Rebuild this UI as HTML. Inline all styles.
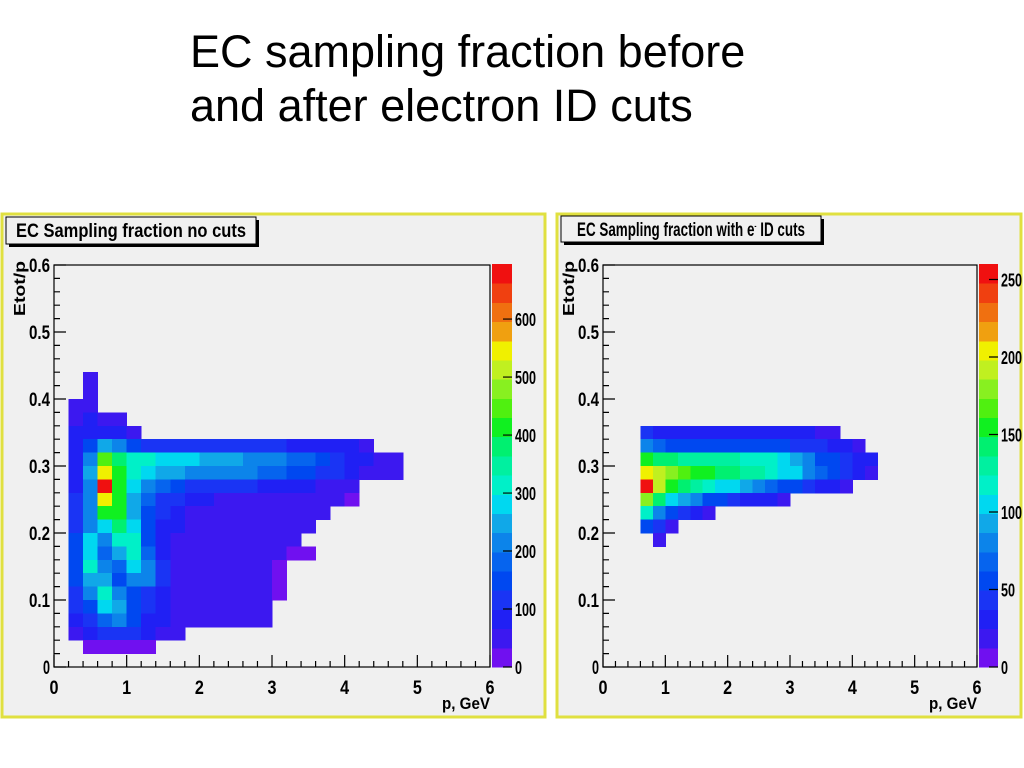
<!DOCTYPE html>
<html><head><meta charset="utf-8"><style>
html,body{margin:0;padding:0;background:#fff;width:1024px;height:768px;overflow:hidden}
#t{position:absolute;left:190px;top:25px;font:45px "Liberation Sans",sans-serif;line-height:54px;color:#000}
svg{position:absolute;left:0;top:0}
text{font-family:"Liberation Sans",sans-serif;font-weight:bold}
</style></head><body>
<div id="t">EC sampling fraction before<br>and after electron ID cuts</div>
<svg id="s" width="1024" height="768"></svg>
<script>
// ---- data ----
const pEdges = [0,0.2,0.4,0.6,0.8,1.0,1.2,1.4,1.6,1.8,2.0,2.2,2.4,2.6,2.8,3.0,3.2,3.4,3.6,3.8,4.0,4.2,4.4,4.6,4.8,5.0];
const yCenters = [0.43,0.41,0.39,0.37,0.35,0.33,0.31,0.29,0.27,0.25,0.23,0.21,0.19,0.17,0.15,0.13,0.11,0.09,0.07,0.05,0.03];
const leftCounts = [
[0,0,40,0,0,0,0,0,0,0,0,0,0,0,0,0,0,0,0,0,0,0,0,0,0],
[0,0,50,0,0,0,0,0,0,0,0,0,0,0,0,0,0,0,0,0,0,0,0,0,0],
[0,40,60,0,0,0,0,0,0,0,0,0,0,0,0,0,0,0,0,0,0,0,0,0,0],
[0,60,70,60,50,0,0,0,0,0,0,0,0,0,0,0,0,0,0,0,0,0,0,0,0],
[0,70,90,90,80,40,0,0,0,0,0,0,0,0,0,0,0,0,0,0,0,0,0,0,0],
[0,80,160,250,200,150,110,110,110,110,110,100,100,100,100,100,90,90,90,80,70,50,0,0,0],
[0,80,220,450,380,330,300,290,280,270,260,250,240,230,220,210,190,170,150,120,90,70,60,50,0],
[0,90,250,550,400,320,280,260,240,230,220,220,210,200,190,180,160,150,130,110,80,60,50,40,0],
[0,90,230,680,420,280,220,180,150,130,120,110,100,100,90,90,80,70,60,50,40,0,0,0,0],
[0,100,200,550,400,250,170,120,100,80,70,60,60,60,60,60,60,60,50,40,30,0,0,0,0],
[0,110,200,400,400,260,150,100,80,60,60,60,60,60,60,60,60,60,50,0,0,0,0,0,0],
[0,120,230,280,380,280,150,90,70,60,60,60,60,60,60,60,60,50,0,0,0,0,0,0,0],
[0,140,270,200,330,300,160,90,60,60,60,60,60,60,60,60,40,0,0,0,0,0,0,0,0],
[0,150,280,180,250,320,180,90,60,60,60,60,60,60,60,40,30,20,0,0,0,0,0,0,0],
[0,160,300,200,180,280,200,100,60,60,60,60,60,60,60,30,0,0,0,0,0,0,0,0,0],
[0,140,250,260,160,200,200,100,60,60,60,60,60,60,60,30,0,0,0,0,0,0,0,0,0],
[0,120,200,300,200,150,130,90,60,60,60,60,60,60,60,20,0,0,0,0,0,0,0,0,0],
[0,100,150,280,260,150,100,80,60,60,60,60,60,60,60,0,0,0,0,0,0,0,0,0,0],
[0,80,120,180,220,160,90,70,60,40,40,40,40,40,40,0,0,0,0,0,0,0,0,0,0],
[0,60,80,100,120,100,80,60,50,0,0,0,0,0,0,0,0,0,0,0,0,0,0,0,0],
[0,0,30,30,30,30,30,0,0,0,0,0,0,0,0,0,0,0,0,0,0,0,0,0,0]
];
const rightCounts = [
[0,0,0,0,0,0,0,0,0,0,0,0,0,0,0,0,0,0,0,0,0,0,0,0,0],
[0,0,0,0,0,0,0,0,0,0,0,0,0,0,0,0,0,0,0,0,0,0,0,0,0],
[0,0,0,0,0,0,0,0,0,0,0,0,0,0,0,0,0,0,0,0,0,0,0,0,0],
[0,0,0,0,0,0,0,0,0,0,0,0,0,0,0,0,0,0,0,0,0,0,0,0,0],
[0,0,0,40,30,30,30,30,30,30,30,25,25,25,25,25,25,20,20,0,0,0,0,0,0],
[0,0,0,80,70,60,55,55,55,55,55,50,50,50,50,40,40,40,30,30,20,0,0,0,0],
[0,0,0,150,145,140,135,130,130,125,125,120,120,115,105,95,75,60,50,40,35,25,0,0,0],
[0,0,0,200,190,180,170,160,150,145,140,135,130,120,110,100,80,65,50,40,30,20,0,0,0],
[0,0,0,250,190,160,140,130,120,110,100,90,80,70,60,50,40,30,25,20,0,0,0,0,0],
[0,0,0,180,140,110,90,75,60,50,40,35,30,25,20,0,0,0,0,0,0,0,0,0,0],
[0,0,0,120,80,60,40,30,20,0,0,0,0,0,0,0,0,0,0,0,0,0,0,0,0],
[0,0,0,50,40,20,0,0,0,0,0,0,0,0,0,0,0,0,0,0,0,0,0,0,0],
[0,0,0,0,20,0,0,0,0,0,0,0,0,0,0,0,0,0,0,0,0,0,0,0,0],
[0,0,0,0,0,0,0,0,0,0,0,0,0,0,0,0,0,0,0,0,0,0,0,0,0],
[0,0,0,0,0,0,0,0,0,0,0,0,0,0,0,0,0,0,0,0,0,0,0,0,0],
[0,0,0,0,0,0,0,0,0,0,0,0,0,0,0,0,0,0,0,0,0,0,0,0,0],
[0,0,0,0,0,0,0,0,0,0,0,0,0,0,0,0,0,0,0,0,0,0,0,0,0],
[0,0,0,0,0,0,0,0,0,0,0,0,0,0,0,0,0,0,0,0,0,0,0,0,0],
[0,0,0,0,0,0,0,0,0,0,0,0,0,0,0,0,0,0,0,0,0,0,0,0,0],
[0,0,0,0,0,0,0,0,0,0,0,0,0,0,0,0,0,0,0,0,0,0,0,0,0],
[0,0,0,0,0,0,0,0,0,0,0,0,0,0,0,0,0,0,0,0,0,0,0,0,0]
];
const xTicks = [0,1,2,3,4,5,6];
const yTicks = [0,0.1,0.2,0.3,0.4,0.5,0.6];
const leftZTicks = [0,100,200,300,400,500,600];
const rightZTicks = [0,50,100,150,200,250];
const palette = ["#7010f0","#3c18f0","#2020f4","#1a34f4","#0048f0","#0664ee","#0c84ea","#10a8e8","#00d8f0","#00f0c8","#00f0a0","#00f070","#10f020","#50f010","#88f020","#c0f020","#f0f000","#f0a010","#f07010","#f04010","#f01010"];

const NS="http://www.w3.org/2000/svg";
const svg=document.getElementById('s');
function mk(tag,attrs,parent){const e=document.createElementNS(NS,tag);for(const k in attrs)e.setAttribute(k,attrs[k]);(parent||svg).appendChild(e);return e;}

function panel(o){
  const g=mk('g',{});
  
  
  mk('rect',{x:o.fx,y:o.fy,width:o.fw,height:o.fh,fill:'#f0f0f0',stroke:'#e0e040','stroke-width':3},g);
  const X=p=>o.x0+(o.x1-o.x0)*p/6;
  const Y=v=>o.y0-(o.y0-o.y1)*v/0.6;
  const cells=mk('g',{'shape-rendering':'crispEdges'},g);
  const nl=palette.length;
  o.data.forEach((row,r)=>{
    row.forEach((v,c)=>{
      if(v<=0)return;
      const li=Math.min(nl-1,Math.floor(v/o.zmax*nl));
      const rc=mk('rect',{x:X(pEdges[c]),y:Y(yCenters[r]+0.01),width:X(pEdges[c+1])-X(pEdges[c])+0.5,height:Y(yCenters[r]-0.01)-Y(yCenters[r]+0.01)+0.5,fill:palette[li]},cells);
      
      
    });
  });
  mk('rect',{x:o.x0,y:o.y1,width:o.x1-o.x0,height:o.y0-o.y1,fill:'none',stroke:'#000','stroke-width':1.2},g);
  let d='';
  for(let i=0;i<=30;i++){const p=i*0.2;const x=X(p);const L=(i%5==0)?12:6;d+=`M${x},${o.y0}v${-L}`;}
  for(let i=0;i<=30;i++){const v=i*0.02;const y=Y(v);const L=(i%5==0)?12:6;d+=`M${o.x0},${y}h${L}`;}
  mk('path',{d:d,stroke:'#000','stroke-width':1.2,fill:'none'},g);
  xTicks.forEach(t=>{const e=mk('text',{x:X(t),y:o.y0+27,'font-size':19,'text-anchor':'middle',textLength:9,lengthAdjust:'spacingAndGlyphs'},g);e.textContent=t;
    });
  yTicks.forEach(t=>{const s=t===0?'0':t.toFixed(1);const e=mk('text',{x:o.x0-4,y:Y(t)+7,'font-size':19,'text-anchor':'end',textLength:s.length*7,lengthAdjust:'spacingAndGlyphs'},g);e.textContent=s;
    });
  const xt=mk('text',{x:o.x1,y:o.y0+42,'font-size':17,'text-anchor':'end',textLength:48,lengthAdjust:'spacingAndGlyphs'},g);xt.textContent='p, GeV';
  
  const yt=mk('text',{x:0,y:0,'font-size':16,'text-anchor':'end',textLength:55,lengthAdjust:'spacingAndGlyphs',transform:`translate(${o.x0-29},${o.y1-4}) rotate(-90)`},g);yt.textContent='Etot/p';
  
  const cb=mk('g',{'shape-rendering':'crispEdges'},g);
  
  const h=(o.y0-o.cbTop)/nl;
  palette.forEach((c,i)=>{mk('rect',{x:o.cbx,y:o.y0-(i+1)*h,width:o.cbw,height:h+0.5,fill:c},cb);});
  const Z=z=>o.y0-(o.y0-o.cbTop)*z/o.zmax;
  let dz='';
  o.zticks.forEach(z=>{dz+=`M${o.cbx+o.cbw},${Z(z)}h-9`;
    const s=String(z);
    const e=mk('text',{x:o.cbx+o.cbw+3,y:Z(z)+7,'font-size':18,textLength:s.length*7,lengthAdjust:'spacingAndGlyphs'},g);e.textContent=s;
    });
  mk('path',{d:dz,stroke:'#000','stroke-width':1.2},g);
  mk('rect',{x:o.tx+3,y:o.ty+3,width:o.tw,height:o.th,fill:'#000'},g);
  const tb=mk('rect',{x:o.tx,y:o.ty,width:o.tw,height:o.th,fill:'#f0f0f0',stroke:'#000','stroke-width':1},g);
  
  const tt=mk('text',{x:o.tx+o.tw/2,y:o.ty+20,'font-size':19,'text-anchor':'middle',textLength:o.tl,lengthAdjust:'spacingAndGlyphs'},g);
  tt.textContent=o.title;
  
  return tt;
}
panel({name:'left-panel-no-cuts',fx:2,fy:214,fw:543,fh:503,x0:54,x1:490,y0:667,y1:265,cbx:492,cbw:20,cbTop:264,zmax:695,zticks:leftZTicks,data:leftCounts,
  tx:6,ty:217,tw:250,th:27,tl:230,title:'EC Sampling fraction no cuts'});
const tt=panel({name:'right-panel-with-cuts',fx:557,fy:214,fw:464,fh:503,x0:603,x1:977,y0:667,y1:265,cbx:979,cbw:19,cbTop:264,zmax:260,zticks:rightZTicks,data:rightCounts,
  tx:561,ty:216,tw:260,th:26,tl:228,title:'EC Sampling fraction with e- ID cuts'});
tt.textContent='';
const t1=document.createElementNS(NS,'tspan');t1.textContent='EC Sampling fraction with e';tt.appendChild(t1);
const t2=document.createElementNS(NS,'tspan');t2.setAttribute('dy','-7');t2.setAttribute('font-size','9');t2.textContent='-';tt.appendChild(t2);
const t3=document.createElementNS(NS,'tspan');t3.setAttribute('dy','7');t3.textContent=' ID cuts';tt.appendChild(t3);
</script>
</body></html>
